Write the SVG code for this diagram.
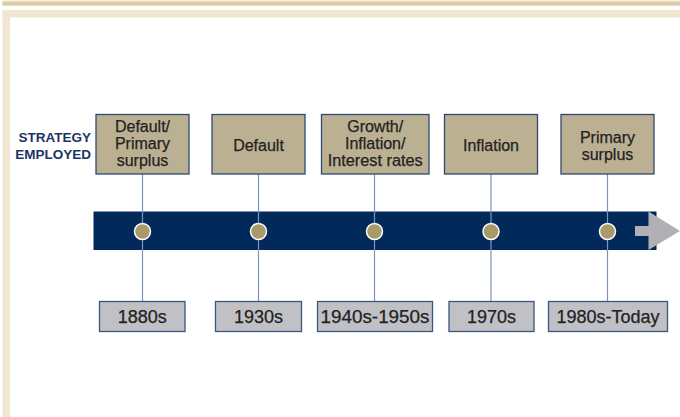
<svg xmlns="http://www.w3.org/2000/svg" width="680" height="417" viewBox="0 0 680 417">
  <style>
    .strategy { fill: #bcb092; stroke: #2d4a6e; stroke-width: 1.3; }
    .era { fill: #c1c1c5; stroke: #3a5580; stroke-width: 1.3; }
    .lbl { font-family: "Liberation Sans", Arial, sans-serif; font-size: 16px; fill: #222222; stroke: #222222; stroke-width: 0.25; text-anchor: middle; }
    .yr { font-family: "Liberation Sans", Arial, sans-serif; font-size: 18px; fill: #222222; stroke: #222222; stroke-width: 0.25; text-anchor: middle; }
    .head { font-family: "Liberation Sans", Arial, sans-serif; font-size: 13.5px; font-weight: bold; fill: #1b3463; text-anchor: end; }
    .tick { stroke: #7f93b4; stroke-width: 1.2; fill: none; }
    .dot { fill: #a89a6b; stroke: #ffffff; stroke-width: 1.5; }
  </style>

  <!-- page trim -->
  <rect x="2.5" y="0.5" width="677.5" height="5.5" fill="#ebe0c6"/>
  <rect x="2.5" y="2" width="677.5" height="3" fill="#dccca6"/>
  <rect x="2.5" y="10" width="677.5" height="7.5" fill="#efe7d0"/>
  <rect x="2.5" y="10" width="7.5" height="407" fill="#efe7d0"/>

  <!-- row heading -->
  <g id="heading">
    <text class="head" x="91" y="141.5">STRATEGY</text>
    <text class="head" x="91" y="159">EMPLOYED</text>
  </g>

  <!-- timeline band -->
  <g id="timeline">
    <rect x="93.5" y="211.5" width="563" height="38.5" fill="#012a5b"/>
    <polygon points="635,226 648.5,226 648.5,211.5 680,231 648.5,250 648.5,236 635,236" fill="#b1b1b5"/>
  </g>

  <!-- connectors -->
  <g id="connectors">
    <line class="tick" x1="142.5" y1="174" x2="142.5" y2="301.5"/>
    <line class="tick" x1="258.5" y1="174" x2="258.5" y2="301.5"/>
    <line class="tick" x1="374.5" y1="174" x2="374.5" y2="301.5"/>
    <line class="tick" x1="491" y1="174" x2="491" y2="301.5"/>
    <line class="tick" x1="607.5" y1="174" x2="607.5" y2="301.5"/>
  </g>

  <g id="dots">
    <circle class="dot" cx="142.5" cy="231.5" r="8"/>
    <circle class="dot" cx="258.5" cy="231.5" r="8"/>
    <circle class="dot" cx="374.5" cy="231.5" r="8"/>
    <circle class="dot" cx="491" cy="231.5" r="8"/>
    <circle class="dot" cx="607.5" cy="231.5" r="8"/>
  </g>

  <!-- strategy boxes -->
  <g id="s1880">
    <rect class="strategy" x="96" y="114.5" width="93" height="59.5"/>
    <text class="lbl" x="142.5" y="132">Default/</text>
    <text class="lbl" x="142.5" y="149">Primary</text>
    <text class="lbl" x="142.5" y="166">surplus</text>
  </g>
  <g id="s1930">
    <rect class="strategy" x="212" y="114.5" width="93" height="59.5"/>
    <text class="lbl" x="258.5" y="150.5">Default</text>
  </g>
  <g id="s1940">
    <rect class="strategy" x="321.5" y="114.5" width="107.5" height="59.5"/>
    <text class="lbl" x="375.2" y="132">Growth/</text>
    <text class="lbl" x="375.2" y="149">Inflation/</text>
    <text class="lbl" x="375.2" y="166" textLength="95" lengthAdjust="spacingAndGlyphs">Interest rates</text>
  </g>
  <g id="s1970">
    <rect class="strategy" x="444.5" y="114.5" width="93" height="59.5"/>
    <text class="lbl" x="491" y="150.5">Inflation</text>
  </g>
  <g id="s1980">
    <rect class="strategy" x="561" y="114.5" width="93" height="59.5"/>
    <text class="lbl" x="607.5" y="142.5">Primary</text>
    <text class="lbl" x="607.5" y="159.5">surplus</text>
  </g>

  <!-- era boxes -->
  <g id="e1880">
    <rect class="era" x="99.5" y="301.5" width="85.5" height="30"/>
    <text class="yr" x="142.3" y="323">1880s</text>
  </g>
  <g id="e1930">
    <rect class="era" x="215.5" y="301.5" width="86" height="30"/>
    <text class="yr" x="258.5" y="323">1930s</text>
  </g>
  <g id="e1940">
    <rect class="era" x="317.5" y="301.5" width="115" height="30"/>
    <text class="yr" x="375" y="323" textLength="109" lengthAdjust="spacingAndGlyphs">1940s-1950s</text>
  </g>
  <g id="e1970">
    <rect class="era" x="449" y="301.5" width="85" height="30"/>
    <text class="yr" x="491.5" y="323">1970s</text>
  </g>
  <g id="e1980">
    <rect class="era" x="548.5" y="301.5" width="119" height="30"/>
    <text class="yr" x="608" y="323">1980s-Today</text>
  </g>
</svg>
